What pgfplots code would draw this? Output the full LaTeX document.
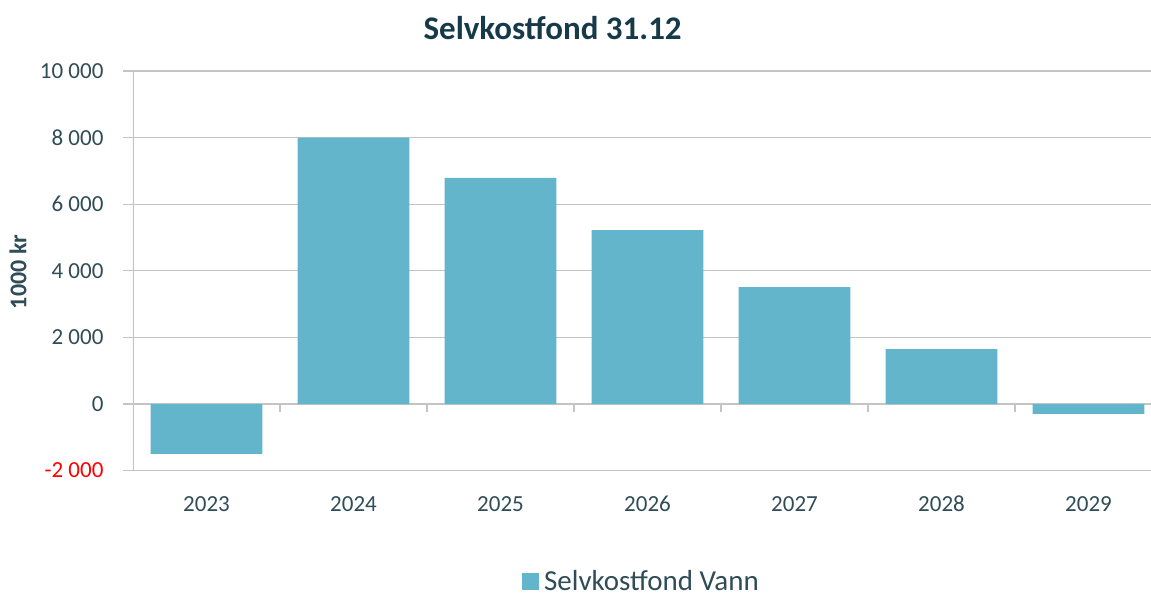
\documentclass[border=0pt]{standalone}
\usepackage{pgfplots}
\pgfplotsset{compat=1.18}
\usepackage{fontspec}
\setmainfont{Carlito}
\definecolor{barc}{HTML}{62B5CB}
\definecolor{txt}{HTML}{2F4C57}
\definecolor{ttl}{HTML}{173A48}
\definecolor{gridc}{HTML}{C4C4C4}
\begin{document}
\begin{tikzpicture}
\useasboundingbox (-133pt,-126.4pt) rectangle (1018pt,470.6pt);
\begin{axis}[
  scale only axis, width=1018pt, height=399.6pt,
  xmin=-0.5, xmax=6.425, ymin=-2000, ymax=10000,
  scaled y ticks=false,
  axis line style={draw=none},
  xtick={0,1,2,3,4,5,6},
  xticklabels={2023,2024,2025,2026,2027,2028,2029},
  xtick style={draw=none},
  ytick={-2000,0,2000,4000,6000,8000,10000},
  yticklabels={{\color{red}-2 000},0,2 000,4 000,6 000,8 000,10 000},
  ytick style={draw=gridc, line width=1.2pt},
  tick align=outside, major tick length=10pt,
  ymajorgrids, grid style={draw=gridc, line width=1.2pt},
  ticklabel style={font=\fontsize{23}{26}\selectfont, text=txt},
  yticklabel style={xshift=-16pt},
  xticklabel style={yshift=-12pt},
  legend style={at={(0.4995,-0.277)}, anchor=center, draw=none, fill=none,
    inner sep=1pt, font=\fontsize{29}{33}\selectfont, text=txt},
  legend image code/.code={\fill[barc] (0pt,-8.5pt) rectangle (17pt,8.5pt); \path (0pt,0pt) -- (20pt,0pt);},
]
\addplot[ybar, bar width=0.76, fill=barc, draw=none] coordinates
  {(0,-1500) (1,8000) (2,6790) (3,5220) (4,3510) (5,1650) (6,-300)};
\addlegendentry{Selvkostfond Vann}
\draw[gridc, line width=1.2pt] (rel axis cs:0,0) -- (rel axis cs:0,1);
\pgfplotsinvokeforeach{0.5,1.5,2.5,3.5,4.5,5.5}{
  \draw[gridc, line width=1.2pt] (axis cs:#1,0) -- ++(0pt,-8pt);
}
\end{axis}
\node[anchor=base, font=\fontsize{33}{37}\selectfont\bfseries, text=ttl] at (419.6pt,430.6pt) {Selvkostfond 31.12};
\node[rotate=90, font=\fontsize{24}{28}\selectfont\bfseries, text=txt] at (-115pt,198.6pt) {1000 kr};
\end{tikzpicture}
\end{document}
